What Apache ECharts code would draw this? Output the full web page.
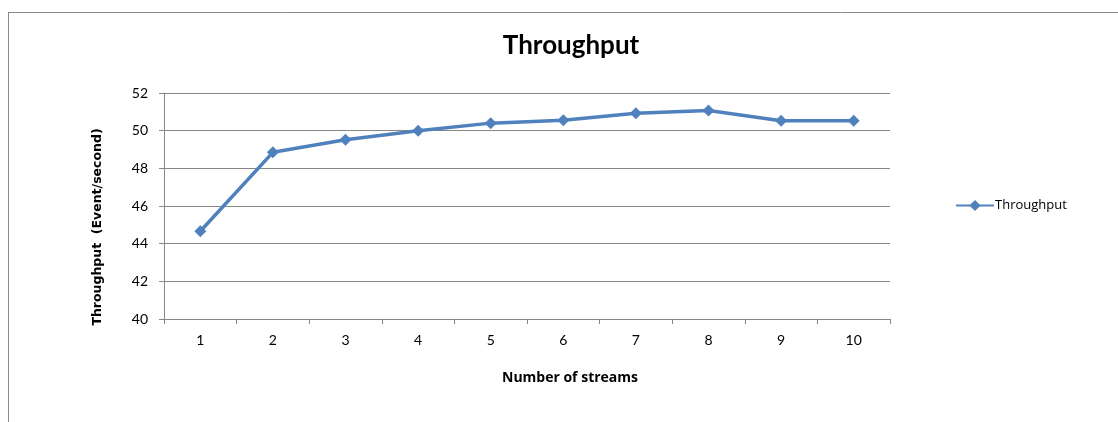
<!DOCTYPE html>
<html>
<head>
<meta charset="utf-8">
<script src="https://cdn.jsdelivr.net/npm/echarts@6/dist/echarts.min.js"></script>
<style>
  html, body { margin: 0; padding: 0; background: #fff; }
  #chart { width: 1118px; height: 422px; }
</style>
</head>
<body>
<div id="chart"></div>
<script>
// Throughput measured for each number of parallel streams
const streams = ['1', '2', '3', '4', '5', '6', '7', '8', '9', '10'];
const throughput = [44.66, 48.85, 49.52, 50.0, 50.4, 50.55, 50.93, 51.07, 50.53, 50.53];
const yTicks = { min: 40, max: 52, step: 2 };

const FONT = 'Lato, "Open Sans", sans-serif';
const chart = echarts.init(document.getElementById('chart'), null, { renderer: 'canvas' });

chart.setOption({
  backgroundColor: '#ffffff',
  animation: false,
  title: {
    text: 'Throughput',
    left: 566,
    textAlign: 'center',
    top: 28,
    textStyle: { fontFamily: FONT, fontSize: 26, fontWeight: 'bold', color: '#000' }
  },
  legend: {
    data: ['Throughput'],
    orient: 'vertical',
    left: 950,
    top: 194,
    itemWidth: 38,
    itemHeight: 14,
    textStyle: { fontFamily: '"Open Sans", sans-serif', fontSize: 13, color: '#000', padding: [0, 0, 0, -4] }
  },
  grid: { left: 164, right: 228, top: 93, bottom: 103, containLabel: false },
  xAxis: {
    type: 'category',
    data: streams,
    boundaryGap: true,
    name: 'Number of streams',
    nameLocation: 'middle',
    nameGap: 52,
    nameTextStyle: {
      fontFamily: '"Open Sans", sans-serif', fontSize: 14, fontWeight: 'bold', color: '#000',
      padding: [0, 0, 0, 86]
    },
    axisLine: { lineStyle: { color: '#868686', width: 1 } },
    axisTick: { show: true, length: 5, inside: false, lineStyle: { color: '#868686' } },
    axisLabel: { fontFamily: FONT, fontSize: 14, color: '#000', margin: 14 },
    splitLine: { show: false }
  },
  yAxis: {
    type: 'value',
    min: yTicks.min,
    max: yTicks.max,
    interval: yTicks.step,
    name: 'Throughput  (Event/second)',
    nameLocation: 'middle',
    nameGap: 60,
    nameRotate: 90,
    nameTextStyle: {
      fontFamily: '"DejaVu Sans", sans-serif', fontSize: 12.5, fontWeight: 'bold', color: '#000',
      padding: [0, 42, 0, 0]
    },
    axisLine: { show: true, lineStyle: { color: '#868686', width: 1 } },
    axisTick: { show: true, length: 5, lineStyle: { color: '#868686' } },
    axisLabel: { fontFamily: FONT, fontSize: 14, color: '#000', margin: 16 },
    splitLine: { show: true, lineStyle: { color: '#868686', width: 1 } }
  },
  series: [{
    name: 'Throughput',
    type: 'line',
    data: throughput,
    symbol: 'diamond',
    symbolSize: 12,
    lineStyle: { color: '#4f81bd', width: 3.5 },
    itemStyle: { color: '#4f81bd' },
    emphasis: { disabled: true }
  }],
  graphic: [
    // chart frame edges on the top and left
    { type: 'line', shape: { x1: 8, y1: 12.5, x2: 1118, y2: 12.5 }, style: { stroke: '#8c8c8c', lineWidth: 1 }, silent: true },
    { type: 'line', shape: { x1: 8.5, y1: 12, x2: 8.5, y2: 422 }, style: { stroke: '#8c8c8c', lineWidth: 1 }, silent: true }
  ]
});
</script>
</body>
</html>
